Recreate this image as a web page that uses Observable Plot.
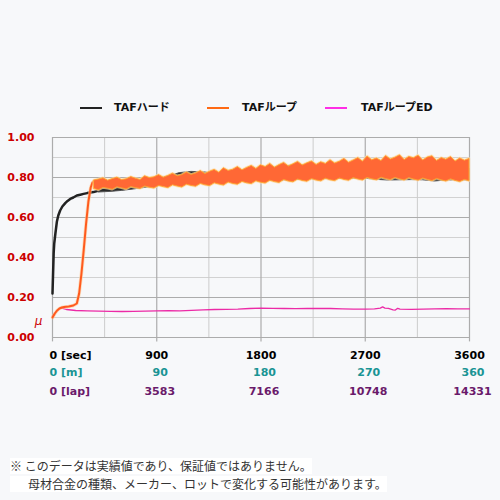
<!DOCTYPE html>
<html><head><meta charset="utf-8">
<script src="https://cdn.jsdelivr.net/npm/d3@7"></script>
<script src="https://cdn.jsdelivr.net/npm/@observablehq/plot@0.6"></script>
<style>
body{margin:0;background:#f7f8fa;width:500px;height:500px;position:relative;overflow:hidden;font-family:"DejaVu Sans","Noto Sans CJK JP",sans-serif;}
.lg{position:absolute;top:101px;font-size:11px;font-weight:bold;line-height:14px;color:#111;white-space:nowrap}
.sw{position:absolute;top:107px;height:2px;width:22px}
#chart{position:absolute;left:0;top:120px}
.note{position:absolute;left:10px;font-family:"Noto Sans CJK JP",sans-serif;font-size:12px;line-height:16px;color:#333;background:#fff;white-space:pre}
</style></head><body>
<div class="sw" style="left:80px;background:#222"></div><div class="lg" style="left:114px">TAFハード</div>
<div class="sw" style="left:207px;background:#ff6a13"></div><div class="lg" style="left:242px">TAFループ</div>
<div class="sw" style="left:325px;background:#ff2ee6"></div><div class="lg" style="left:361px">TAFループED</div>
<div id="chart"></div>
<div class="note" style="top:458px">※ このデータは実績値であり、保証値ではありません。</div>
<div class="note" style="top:476px;padding-left:18px">母材合金の種類、メーカー、ロットで変化する可能性があります。</div>
<script>
// ---- tick labels ----
const secTicks = [0, 900, 1800, 2700, 3600];
const mTicks = [0, 90, 180, 270, 360];
const lapTicks = [0, 3583, 7166, 10748, 14331];
const yTicks = [0, 0.2, 0.4, 0.6, 0.8, 1.0];
const yMinor = [0.1, 0.3, 0.5, 0.7, 0.9];
const xMinor = [450, 1350, 2250, 3150];

// ---- TAFハード (black) ----
const hardEarlyT = [0, 5, 10, 15, 25, 38, 50, 66, 85, 110, 130, 153, 180, 210, 240, 268, 300, 354, 400];
const hardEarlyMu = [0.22, 0.32, 0.42, 0.47, 0.52, 0.58, 0.61, 0.635, 0.655, 0.672, 0.683, 0.693, 0.70, 0.71, 0.714, 0.718, 0.722, 0.727, 0.735];
const hardBandT = [400, 500, 600, 700, 800, 900, 1000, 1100, 1200, 1300, 1400, 1500, 1600, 1700, 1800, 1900, 2000, 2100, 2200, 2300, 2400, 2500, 2600, 2700, 2800, 2900, 3000, 3100, 3200, 3300, 3400, 3500, 3600];
const hardLo = [0.725, 0.728, 0.733, 0.740, 0.748, 0.755, 0.765, 0.770, 0.775, 0.780, 0.783, 0.785, 0.788, 0.790, 0.790, 0.783, 0.785, 0.788, 0.790, 0.792, 0.792, 0.793, 0.794, 0.794, 0.788, 0.785, 0.786, 0.787, 0.786, 0.780, 0.785, 0.786, 0.785];
const hardHi = [0.745, 0.748, 0.755, 0.765, 0.775, 0.790, 0.805, 0.822, 0.828, 0.826, 0.820, 0.825, 0.830, 0.835, 0.840, 0.848, 0.855, 0.862, 0.860, 0.855, 0.855, 0.855, 0.858, 0.860, 0.855, 0.850, 0.848, 0.848, 0.846, 0.844, 0.844, 0.844, 0.844];

// ---- TAFループ (orange) ----
const loopEarlyT = [0, 20, 40, 60, 80, 100, 140, 180, 210, 230, 250, 270, 290, 310, 330, 345, 360];
const loopEarlyMu = [0.10, 0.12, 0.135, 0.145, 0.15, 0.152, 0.155, 0.16, 0.17, 0.22, 0.32, 0.44, 0.57, 0.68, 0.75, 0.775, 0.78];
const loopBandT = d3.range(360, 3601, 40);
const loopTop = [
  0.785,0.790,0.796,0.784,0.792,0.799,0.787,0.791,0.802,0.794,
  0.788,0.806,0.797,0.801,0.812,0.799,0.808,0.819,0.806,0.812,
  0.825,0.813,0.820,0.832,0.817,0.829,0.838,0.824,0.846,0.833,
  0.839,0.852,0.836,0.848,0.858,0.843,0.861,0.852,0.868,0.849,
  0.862,0.873,0.855,0.866,0.878,0.860,0.871,0.880,0.863,0.876,
  0.868,0.886,0.870,0.879,0.893,0.874,0.885,0.897,0.879,0.905,
  0.886,0.895,0.882,0.907,0.890,0.899,0.911,0.887,0.903,0.896,
  0.909,0.885,0.900,0.906,0.883,0.897,0.889,0.902,0.880,0.895,
  0.884,0.893];
const loopBottom = [
  0.742,0.736,0.748,0.744,0.739,0.751,0.746,0.740,0.752,0.747,
  0.743,0.755,0.749,0.745,0.758,0.752,0.747,0.761,0.755,0.750,
  0.764,0.758,0.754,0.768,0.761,0.757,0.771,0.765,0.760,0.775,
  0.768,0.764,0.778,0.771,0.767,0.781,0.774,0.770,0.784,0.777,
  0.773,0.788,0.780,0.776,0.790,0.783,0.779,0.792,0.785,0.781,
  0.794,0.786,0.782,0.795,0.788,0.784,0.797,0.790,0.785,0.798,
  0.791,0.786,0.799,0.792,0.787,0.798,0.791,0.785,0.797,0.790,
  0.784,0.795,0.788,0.782,0.793,0.786,0.780,0.791,0.783,0.777,
  0.788,0.781];

// ---- TAFループED (magenta) ----
const edT = [0, 30, 60, 80, 120, 200, 300, 400, 500, 600, 700, 800, 900, 1000, 1100, 1200, 1300, 1400, 1500, 1600, 1700, 1800, 1900, 2000, 2100, 2200, 2300, 2400, 2500, 2600, 2700, 2780, 2830, 2850, 2870, 2900, 2940, 2960, 2980, 3000, 3100, 3200, 3300, 3400, 3500, 3600];
const edMu = [0.105, 0.13, 0.145, 0.147, 0.14, 0.135, 0.133, 0.132, 0.131, 0.130, 0.131, 0.132, 0.133, 0.134, 0.133, 0.136, 0.138, 0.140, 0.141, 0.142, 0.145, 0.147, 0.146, 0.145, 0.144, 0.145, 0.146, 0.145, 0.143, 0.142, 0.142, 0.143, 0.147, 0.153, 0.147, 0.146, 0.138, 0.137, 0.146, 0.142, 0.141, 0.142, 0.143, 0.144, 0.143, 0.143];

const hardEarly = hardEarlyT.map((t, i) => ({t, mu: hardEarlyMu[i]}));
const hardBand = hardBandT.map((t, i) => ({t, lo: hardLo[i], hi: hardHi[i]}));
const loopEarly = loopEarlyT.map((t, i) => ({t, mu: loopEarlyMu[i]}));
const loopBand = loopBandT.map((t, i) => ({t, lo: loopBottom[i], hi: loopTop[i]}));
const ed = edT.map((t, i) => ({t, mu: edMu[i]}));
const rest = [1, 2, 3, 4];

const font = '"DejaVu Sans","Noto Sans CJK JP",sans-serif';
const lab = {fontWeight: "bold", fontSize: 11};
const chart = Plot.plot({
  width: 500, height: 290,
  marginLeft: 52, marginRight: 31, marginTop: 17, marginBottom: 73,
  x: {domain: [0, 3600], axis: null},
  y: {domain: [0, 1], axis: null},
  style: {background: "transparent", fontFamily: font, overflow: "visible"},
  marks: [
    Plot.ruleY(yMinor, {stroke: "#d2d2d2", strokeWidth: 1}),
    Plot.ruleX(xMinor, {y1: 0, y2: 1, stroke: "#cccccc", strokeWidth: 1}),
    Plot.ruleY(yTicks, {stroke: "#acacac", strokeWidth: 1.2}),
    Plot.ruleX(secTicks, {y1: -0.022, y2: 1, stroke: "#acacac", strokeWidth: 1.2}),
    Plot.text(yTicks, {x: 0, y: d => d, text: d => d.toFixed(2), textAnchor: "end", dx: -18, fill: "#cc0000", ...lab}),
    Plot.text(["μ"], {x: 0, y: 0.08, text: d => d, dx: -14, fill: "#cc0000", fontStyle: "italic", fontSize: 12}),
    // black
    Plot.line(hardEarly, {x: "t", y: "mu", stroke: "#222", strokeWidth: 2.5}),
    Plot.areaY(hardBand, {x: "t", y1: "lo", y2: "hi", fill: "#2a2a2a", stroke: "#555", strokeWidth: 1}),
    // magenta
    Plot.line(ed, {x: "t", y: "mu", stroke: "#ec2aa6", strokeWidth: 1.3}),
    // orange
    Plot.line(loopEarly, {x: "t", y: "mu", stroke: "#ffc690", strokeWidth: 3.5, strokeOpacity: 0.6}),
    Plot.line(loopEarly, {x: "t", y: "mu", stroke: "#ff5a1e", strokeWidth: 2}),
    Plot.areaY(loopBand, {x: "t", y1: "lo", y2: "hi", fill: "none", stroke: "#ffd8a8", strokeWidth: 2.5, strokeOpacity: 0.7}),
    Plot.areaY(loopBand, {x: "t", y1: "lo", y2: "hi", fill: "#ff6835", stroke: "#ffa62e", strokeWidth: 0.9}),
    // x labels: first column
    Plot.text(["0 [sec]"], {x: 0, y: 0, dy: 18, dx: -3, text: d => d, textAnchor: "start", fill: "#000", ...lab}),
    Plot.text(["0 [m]"], {x: 0, y: 0, dy: 34.5, dx: -3, text: d => d, textAnchor: "start", fill: "#1a9494", ...lab}),
    Plot.text(["0 [lap]"], {x: 0, y: 0, dy: 54, dx: -3, text: d => d, textAnchor: "start", fill: "#6a1a6a", ...lab}),
    // x labels: other columns
    Plot.text(rest, {x: i => secTicks[i], y: 0, dy: 18, text: i => String(secTicks[i]), textAnchor: "middle", fill: "#000", ...lab}),
    Plot.text(rest, {x: i => secTicks[i], y: 0, dy: 34.5, dx: 3.5, text: i => String(mTicks[i]), textAnchor: "middle", fill: "#1a9494", ...lab}),
    Plot.text(rest, {x: i => secTicks[i], y: 0, dy: 54, dx: 3, text: i => String(lapTicks[i]), textAnchor: "middle", fill: "#6a1a6a", ...lab})
  ]
});
document.getElementById("chart").appendChild(chart);
</script>
</body></html>
